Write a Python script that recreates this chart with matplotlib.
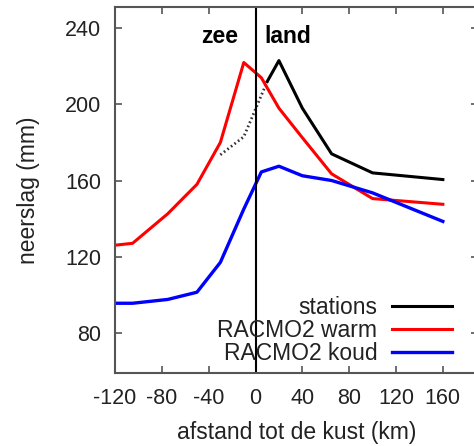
import matplotlib
matplotlib.use("Agg")
import matplotlib.pyplot as plt

plt.rcParams['font.family'] = ['Liberation Sans', 'DejaVu Sans']
plt.rcParams['axes.unicode_minus'] = False

# afstand tot de kust (km)
afstand = [-120, -105, -75, -50, -30, -10, 5, 20, 40, 65, 100, 160]
warm = [126, 127, 142.5, 158, 180, 222, 214, 198, 182.5, 163.5, 150.5, 147.5]
koud = [95.5, 95.5, 97.5, 101.3, 117, 145, 164.5, 167.5, 162.5, 160, 153.5, 138.5]

# stations: zee-deel gestippeld, land-deel doorgetrokken
st_zee_x = [-30, -10, 10]
st_zee_y = [173.5, 183, 212]
st_land_x = [10, 20, 40, 65, 100, 160]
st_land_y = [212, 223, 198, 174, 164, 160.5]

xticks = [-120, -80, -40, 0, 40, 80, 120, 160]
yticks = [80, 120, 160, 200, 240]

fig = plt.figure(figsize=(4.74, 4.46), dpi=100)
ax = fig.add_axes([0.2426, 0.1643, 1.0084 - 0.2426, 0.9836 - 0.1643])

ax.plot(st_zee_x, st_zee_y, color='#333333', lw=2.0, ls=(0, (0.6, 1.0)))
ax.plot(st_land_x, st_land_y, color='black', lw=2.2, label='stations')
ax.plot(afstand, warm, color='#ff0000', lw=2.2, label='RACMO2 warm')
ax.plot(afstand, koud, color='#0000ff', lw=2.4, label='RACMO2 koud')

ax.axvline(0, color='black', lw=1.5)

ax.text(-15, 232.5, 'zee', ha='right', va='baseline', fontsize=16.5, fontweight='bold')
ax.text(8, 232.5, 'land', ha='left', va='baseline', fontsize=16.5, fontweight='bold')

ax.set_xlim(-120, 190)
ax.set_ylim(59, 251)
ax.set_xticks(xticks)
ax.set_xticklabels([str(v) for v in xticks])
ax.set_yticks(yticks)
ax.tick_params(direction='in', length=5, width=1.2, color='#555555',
               top=True, right=True, labelsize=15.5, labelcolor='#222222')
ax.tick_params(axis='x', pad=11)
ax.tick_params(axis='y', pad=10)
for sp in ax.spines.values():
    sp.set_color('#555555')
    sp.set_linewidth(1.5)

ax.set_xlabel('afstand tot de kust (km)', fontsize=16.5, color='#222222', labelpad=9)
ax.set_ylabel('neerslag (mm)', fontsize=16.5, color='#222222', labelpad=18)

leg = ax.legend(loc='lower right', bbox_to_anchor=(0.928, 0.02), frameon=False,
                markerfirst=False, fontsize=16.5, handlelength=2.6,
                handletextpad=0.65, labelspacing=0.0, borderaxespad=0.0,
                borderpad=0.0)
for t in leg.get_texts():
    t.set_ha('right')
    t.set_color('#222222')

fig.savefig('out.png', dpi=100)
